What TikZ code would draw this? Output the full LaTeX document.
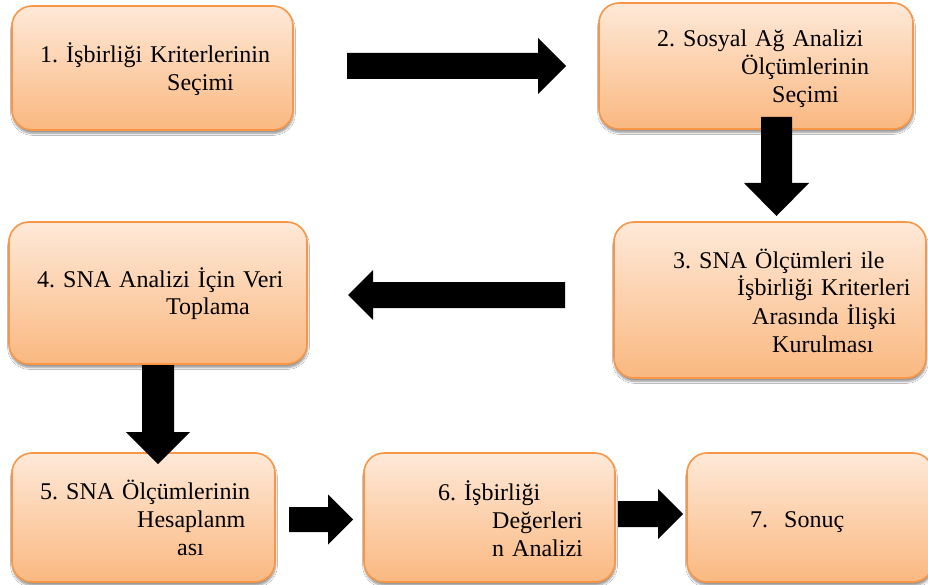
\documentclass[tikz,border=0pt]{standalone}
\usepackage{fontspec}
\setmainfont{Liberation Serif}
\usetikzlibrary{calc,shadows.blur}
\definecolor{obord}{RGB}{247,150,70}
\definecolor{otop}{RGB}{254,233,216}
\definecolor{obot}{RGB}{250,184,128}
\tikzset{
  stepbox/.style={draw=obord, line width=1.6pt, rounded corners=20pt,
    top color=otop, bottom color=obot, inner sep=0pt,
    blur shadow={shadow xshift=0.5pt, shadow yshift=-3.5pt, shadow blur steps=6,
      shadow blur extra rounding=2pt, shadow opacity=40}},
  boxtext/.style={font=\fontsize{24}{28}\selectfont\frenchspacing, align=left, inner sep=0pt,
    anchor=base west, text width=400pt},
  blockarrow/.style={fill=black}
}
% #1 start, #2 tip, #3 shaft half width, #4 head half width, #5 head length
\newcommand{\blockarr}[5]{%
  \coordinate (hb) at ($(#2)!#5!(#1)$);
  \fill[blockarrow] ($(#1)!#3!90:(#2)$) -- ($(hb)!#3!-90:(#1)$) -- ($(hb)!#4!-90:(#1)$)
    -- (#2) -- ($(hb)!#4!90:(#1)$) -- ($(hb)!#3!90:(#1)$) -- ($(#1)!#3!-90:(#2)$) -- cycle;
}
\begin{document}
\begin{tikzpicture}[x=1pt,y=-1pt]
\useasboundingbox[fill=white] (0,0) rectangle (928,585);
% boxes
\node[stepbox, minimum width=281pt, minimum height=124pt] (b1) at (152.5,68) {};
\node[stepbox, minimum width=314pt, minimum height=126pt] (b2) at (756,66) {};
\node[stepbox, minimum width=312pt, minimum height=156pt] (b3) at (770,300) {};
\node[stepbox, minimum width=298pt, minimum height=142pt] (b4) at (158,293) {};
\node[stepbox, minimum width=263pt, minimum height=129pt] (b5) at (143.5,517.5) {};
\node[stepbox, minimum width=251pt, minimum height=129pt] (b6) at (489.5,517.5) {};
\node[stepbox, minimum width=246pt, minimum height=129pt] (b7) at (810,517.5) {};
% texts
\node[boxtext] (t1) at (12,63) {\hspace*{28pt}1. İşbirliği Kriterlerinin\\\hspace*{155pt}Seçimi};
\node[boxtext] (t2) at (599,47) {\hspace*{58pt}2. Sosyal Ağ Analizi\\\hspace*{142pt}Ölçümlerinin\\\hspace*{173pt}Seçimi};
\node[boxtext] (t3) at (614,268) {\hspace*{59pt}3. SNA Ölçümleri ile\\\hspace*{123pt}İşbirliği Kriterleri\\\hspace*{138pt}Arasında İlişki\\\hspace*{158pt}Kurulması};
\node[boxtext] (t4) at (9,287) {\hspace*{28pt}4. SNA Analizi İçin Veri\\\hspace*{157pt}Toplama};
\node[boxtext] (t5) at (12,499) {\hspace*{28pt}5. SNA Ölçümlerinin\\\hspace*{125pt}Hesaplanm\\\hspace*{165pt}ası};
\node[boxtext] (t6) at (364,500) {\hspace*{74pt}6. İşbirliği\\\hspace*{128pt}Değerleri\\\hspace*{128pt}n Analizi};
\node[boxtext] (t7) at (687,527) {\hspace*{63pt}7.\ \ Sonuç};
% arrow end points
\coordinate (a12s) at (347,66);    \coordinate (a12t) at (566,66);
\coordinate (a23s) at (776.5,117); \coordinate (a23t) at (776.5,216);
\coordinate (a34s) at (565,295);   \coordinate (a34t) at (348,295);
\coordinate (a45s) at (158,365);   \coordinate (a45t) at (158,464);
\coordinate (a56s) at (289,519.5); \coordinate (a56t) at (353,519.5);
\coordinate (a67s) at (618,514);   \coordinate (a67t) at (683,514);
\blockarr{a12s}{a12t}{13pt}{28pt}{28pt}
\blockarr{a23s}{a23t}{15.5pt}{32.5pt}{33pt}
\blockarr{a34s}{a34t}{13pt}{25pt}{25pt}
\blockarr{a45s}{a45t}{16pt}{32pt}{32pt}
\blockarr{a56s}{a56t}{12.5pt}{25pt}{25pt}
\blockarr{a67s}{a67t}{13pt}{25pt}{25pt}
\end{tikzpicture}
\end{document}
